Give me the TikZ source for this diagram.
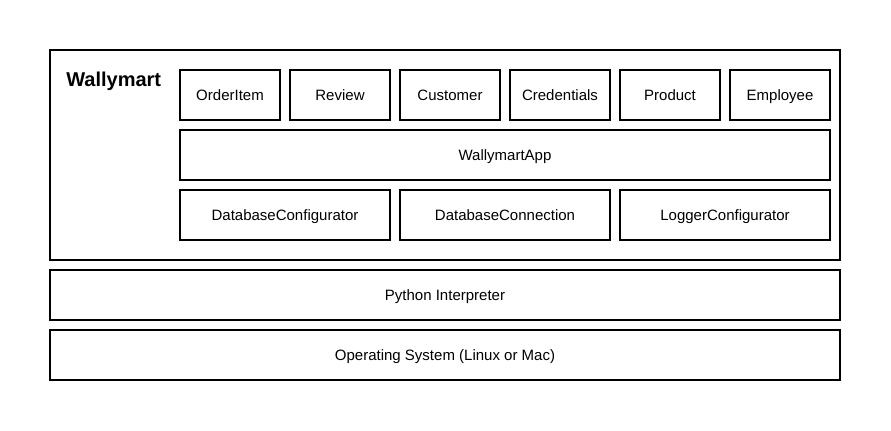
\documentclass[tikz,border=0pt]{standalone}
\usepackage{fontspec}
\setmainfont{Liberation Sans}
\begin{document}
\begin{tikzpicture}[x=0.75pt,y=-0.75pt,
  box/.style={draw=black,line width=0.8pt,fill=white,inner sep=0pt,text height=8.1pt,text depth=0pt,font=\fontsize{11.25pt}{13pt}\selectfont},
  title/.style={font=\fontsize{15pt}{18pt}\selectfont\bfseries,inner sep=0pt}]
\useasboundingbox (0,0) rectangle (891,431);
\newcommand\bx[6]{\node[box,minimum width=#4*0.75pt,minimum height=#5*0.75pt] (#1) at (#2+#4/2,#3+#5/2) {#6};}
\bx{outer}{50}{50}{790}{210}{}
\node[title,anchor=base west] (wtitle) at (66,87) {Wallymart};
\bx{orderitem}{180}{70}{100}{50}{OrderItem}
\bx{review}{290}{70}{100}{50}{Review}
\bx{customer}{400}{70}{100}{50}{Customer}
\bx{credentials}{510}{70}{100}{50}{Credentials}
\bx{product}{620}{70}{100}{50}{Product}
\bx{employee}{730}{70}{100}{50}{Employee}
\bx{app}{180}{130}{650}{50}{WallymartApp}
\bx{dbconf}{180}{190}{210}{50}{DatabaseConfigurator}
\bx{dbconn}{400}{190}{210}{50}{DatabaseConnection}
\bx{logconf}{620}{190}{210}{50}{LoggerConfigurator}
\bx{python}{50}{270}{790}{50}{Python Interpreter}
\bx{os}{50}{330}{790}{50}{Operating System (Linux or Mac)}
\end{tikzpicture}
\end{document}
